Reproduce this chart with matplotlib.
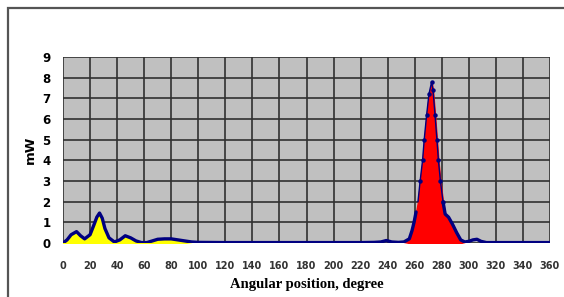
import matplotlib.pyplot as plt
from matplotlib.patches import Rectangle
import numpy as np

# angular position (deg) and power (mW)
angle = [0, 3, 6, 10, 13, 16, 20, 23, 25, 27, 29, 31, 34, 38, 42, 46, 50, 54,
         58, 62, 66, 70, 75, 80, 85, 90, 95, 100, 120, 140, 160, 180, 200,
         220, 230, 235, 239, 243, 248, 252, 256, 258, 259.5, 261, 262.4, 264,
         265.8, 267, 268.8, 270.5, 272.5, 273.5, 275, 276.4, 277.5, 279,
         280.9, 282.5, 285, 288, 291, 294, 297, 300, 303, 306, 309, 313, 318,
         330, 345, 360]
power = [0.0, 0.15, 0.4, 0.55, 0.35, 0.2, 0.4, 0.9, 1.25, 1.45, 1.2, 0.7, 0.25,
         0.05, 0.15, 0.35, 0.25, 0.1, 0.02, 0.02, 0.1, 0.18, 0.2, 0.2, 0.15,
         0.1, 0.05, 0.03, 0.02, 0.02, 0.02, 0.02, 0.02, 0.02, 0.03, 0.05,
         0.12, 0.05, 0.03, 0.05, 0.2, 0.6, 1.0, 1.5, 2.0, 3.0, 4.0, 5.0, 6.2,
         7.2, 7.8, 7.4, 6.2, 5.0, 4.0, 3.0, 2.0, 1.4, 1.25, 0.9, 0.5, 0.15,
         0.05, 0.08, 0.15, 0.18, 0.08, 0.02, 0.02, 0.02, 0.02, 0.02]
marker_angle = [264, 265.8, 267, 268.8, 270.5, 272.5, 273.5, 275, 276.4,
                277.5, 279, 280.9]
marker_power = [3.0, 4.0, 5.0, 6.2, 7.2, 7.8, 7.4, 6.2, 5.0, 4.0, 3.0, 2.0]

a = np.array(angle)
p = np.array(power)

fig = plt.figure(figsize=(5.64, 2.97), dpi=100)
fig.patches.append(Rectangle((8 / 564, -0.1), 1.2, 1 - 8 / 297 + 0.1,
                             transform=fig.transFigure, fill=False,
                             edgecolor='#555555', linewidth=1.6))

ax = fig.add_axes([63 / 564, 1 - 243 / 297, 487 / 564, 186 / 297])
ax.set_facecolor('#c0c0c0')

ax.fill_between(a, p, where=(a <= 90), color='#ffff00', interpolate=True)
ax.fill_between(a, p, where=(a >= 256) & (a <= 294), color='#ff0000',
                interpolate=True)
ax.plot(a[a < 262], p[a < 262], color='#000080', linewidth=2.4,
        solid_joinstyle='round', solid_capstyle='round')
ax.plot(a[(a >= 262) & (a <= 281)], p[(a >= 262) & (a <= 281)],
        color='#000080', linewidth=1.0)
ax.plot(a[a > 280], p[a > 280], color='#000080', linewidth=2.4,
        solid_joinstyle='round', solid_capstyle='round')
ax.plot(marker_angle, marker_power, 'o', color='#000080', markersize=2.2)

ax.set_xlim(0, 360)
ax.set_ylim(0, 9)
ax.set_xticks(range(0, 361, 20))
ax.set_yticks(range(0, 10))
ax.grid(True, color='#303030', linewidth=1.2)
ax.set_axisbelow(True)
for s in ax.spines.values():
    s.set_visible(False)
ax.tick_params(length=0)
ax.tick_params(axis='x', pad=13, labelsize=7, labelcolor='#333333')
ax.tick_params(axis='y', pad=9, labelsize=8.5)
for t in ax.get_xticklabels() + ax.get_yticklabels():
    t.set_fontweight('bold')

ax.set_ylabel('mW', fontsize=9.5, fontweight='bold', labelpad=4)
ax.set_xlabel('Angular position, degree', family='Liberation Serif',
              fontsize=10.5, fontweight='bold', labelpad=5)

fig.savefig('out.png', dpi=100)
